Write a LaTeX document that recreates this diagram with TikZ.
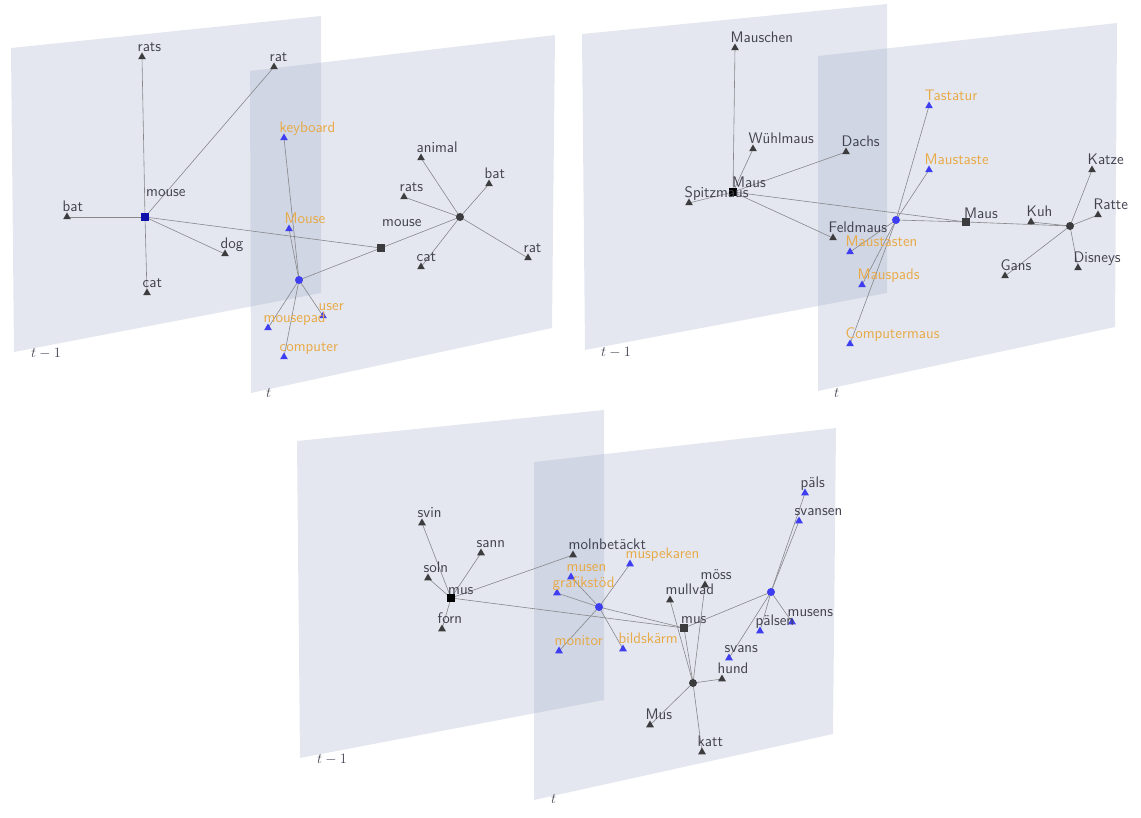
\documentclass[tikz,border=0pt]{standalone}
\usepackage{fontspec}
\usetikzlibrary{shapes.geometric}
\pgfdeclarelayer{planes}
\pgfdeclarelayer{edges}
\pgfsetlayers{planes,edges,main}
\definecolor{planec}{RGB}{151,163,193}
\definecolor{txtc}{RGB}{66,66,80}
\definecolor{orc}{RGB}{232,170,72}
\definecolor{trib}{RGB}{62,62,240}
\definecolor{trid}{RGB}{60,60,62}
\definecolor{edgec}{RGB}{135,135,140}
\tikzset{
  plane/.style={fill=planec,fill opacity=0.26,draw=none},
  edge/.style={draw=edgec,line width=0.6pt},
  trim/.style={regular polygon,regular polygon sides=3,inner sep=0pt,minimum size=9pt,draw=none},
  tridark/.style={trim,fill=trid},
  triblue/.style={trim,fill=trib},
  hubc/.style={circle,inner sep=0pt,minimum size=8pt,fill=trid},
  bluec/.style={circle,inner sep=0pt,minimum size=8pt,fill=trib},
  sqm/.style={rectangle,inner sep=0pt,minimum size=8.5pt},
  lbl/.style={inner sep=0pt,anchor=base west,font=\fontsize{15.3}{17}\selectfont\sffamily},
  dlbl/.style={lbl,text=txtc},
  olbl/.style={lbl,text=orc},
  tlbl/.style={inner sep=0pt,anchor=base west,font=\fontsize{15}{17}\selectfont,text=txtc}
}
% dark triangle with dark label
\newcommand\dt[4]{\node[tridark] (#1) at (#2,#3) {};
  \node[dlbl] (#1-t) at ({#2-4.5},{#3-5.5}) {#4};}
% blue triangle with orange label
\newcommand\bt[4]{\node[triblue] (#1) at (#2,#3) {};
  \node[olbl] (#1-t) at ({#2-4.5},{#3-5.5}) {#4};}
% blue triangle with dark label
\newcommand\bd[4]{\node[triblue] (#1) at (#2,#3) {};
  \node[dlbl] (#1-t) at ({#2-4.5},{#3-5.5}) {#4};}
\begin{document}
\begin{tikzpicture}[x=1pt,y=-1pt]
\useasboundingbox (0,0) rectangle (1141,818);
\begin{pgfonlayer}{planes}
% top-left
\path[plane] (11,48) -- (321,16) -- (321,293) -- (14,352) -- cycle;
\path[plane] (250,71) -- (555,35) -- (552,328) -- (251,393) -- cycle;
% top-right
\path[plane] (582,34) -- (887,4) -- (887,293) -- (585,350) -- cycle;
\path[plane] (818,56) -- (1117,23) -- (1115,327) -- (818,391) -- cycle;
% bottom
\path[plane] (297,441) -- (604,410) -- (604,700) -- (300,758) -- cycle;
\path[plane] (534,462) -- (836,428) -- (833,734) -- (534,800) -- cycle;
\end{pgfonlayer}
\node[tlbl] (tl1) at (31,358) {$t-1$};
\node[tlbl] (tl2) at (266,398) {$t$};
\node[tlbl] (tr1) at (601,356) {$t-1$};
\node[tlbl] (tr2) at (834,397) {$t$};
\node[tlbl] (bt1) at (317,763) {$t-1$};
\node[tlbl] (bt2) at (551,803) {$t$};

%%%%% top-left panel
\node[sqm,fill={rgb,255:red,16;green,16;blue,170}] (a1) at (145,217) {};
\node[dlbl] (a1-t) at (146,197) {mouse};
\dt{r1}{142}{57}{rats}
\dt{r2}{274}{67}{rat}
\dt{r3}{67}{217}{bat}
\dt{r4}{225}{254}{dog}
\dt{r5}{147}{293}{cat}
\node[sqm,fill=trid] (b1) at (381,248) {};
\node[dlbl] (b1-t) at (382,227) {mouse};
\node[bluec] (c1) at (299,280) {};
\bt{k1}{284}{138}{keyboard}
\bt{k2}{289}{229}{Mouse}
\bt{k3}{323}{316}{user}
\bt{k4}{268}{328}{mousepad}
\bt{k5}{284}{357}{computer}
\node[hubc] (h1) at (460,217) {};
\dt{s1}{421}{158}{animal}
\dt{s2}{489}{184}{bat}
\dt{s3}{404}{197}{rats}
\dt{s4}{528}{258}{rat}
\dt{s5}{421}{267}{cat}
\begin{pgfonlayer}{edges}
\foreach \n in {r1,r2,r3,r4,r5,b1} \draw[edge] (a1.center) -- (\n.center);
\draw[edge] (b1.center) -- (c1.center);
\draw[edge] (b1.center) -- (h1.center);
\foreach \n in {k1,k2,k3,k4,k5} \draw[edge] (c1.center) -- (\n.center);
\foreach \n in {s1,s2,s3,s4,s5} \draw[edge] (h1.center) -- (\n.center);
\end{pgfonlayer}

%%%%% top-right panel
\node[sqm,fill=black] (a2) at (733,192) {};
\node[dlbl] (a2-t) at (732,188) {Maus};
\dt{m1}{735}{48}{Mauschen}
\dt{m2}{753}{149}{Wühlmaus}
\dt{m3}{846}{152}{Dachs}
\dt{m4}{689}{203}{Spitzmaus}
\dt{m5}{833}{238}{Feldmaus}
\node[bluec] (c2) at (896,220) {};
\node[sqm,fill=trid] (b2) at (966,222) {};
\node[dlbl] (b2-t) at (964,219) {Maus};
\node[hubc] (h2) at (1070,226) {};
\dt{g1}{1031}{222}{Kuh}
\dt{g2}{1092}{170}{Katze}
\dt{g3}{1098}{215}{Ratte}
\dt{g4}{1078}{268}{Disneys}
\dt{g5}{1005}{276}{Gans}
\bt{q1}{929}{106}{Tastatur}
\bt{q2}{929}{170}{Maustaste}
\bt{q3}{850}{252}{Maustasten}
\bt{q4}{862}{285}{Mauspads}
\bt{q5}{850}{344}{Computermaus}
\begin{pgfonlayer}{edges}
\foreach \n in {m1,m2,m3,m4,m5,b2} \draw[edge] (a2.center) -- (\n.center);
\draw[edge] (c2.center) -- (b2.center);
\draw[edge] (b2.center) -- (h2.center);
\foreach \n in {g1,g2,g3,g4,g5} \draw[edge] (h2.center) -- (\n.center);
\foreach \n in {q1,q2,q3,q4,q5} \draw[edge] (c2.center) -- (\n.center);
\end{pgfonlayer}

%%%%% bottom panel
\node[sqm,fill=black] (a3) at (451,598) {};
\node[dlbl] (a3-t) at (448,594) {mus};
\dt{v1}{422}{523}{svin}
\dt{v2}{481}{553}{sann}
\dt{v3}{428}{578}{soln}
\dt{v4}{442}{629}{forn}
\dt{v5}{573}{555}{molnbetäckt}
\node[bluec] (c3) at (599,607) {};
\bt{w1}{571}{577}{musen}
\bt{w2}{557}{593}{grafikstöd}
\bt{w3}{630}{564}{muspekaren}
\bt{w4}{559}{651}{monitor}
\bt{w5}{623}{649}{bildskärm}
\node[sqm,fill=trid] (b3) at (684,628) {};
\node[dlbl] (b3-t) at (681,623) {mus};
\node[hubc] (h3) at (693,683) {};
\dt{x1}{670}{600}{mullvad}
\dt{x2}{705}{585}{möss}
\dt{x3}{722}{679}{hund}
\dt{x4}{650}{725}{Mus}
\dt{x5}{702}{752}{katt}
\node[bluec] (c4) at (771,592) {};
\bd{y1}{805}{493}{päls}
\bd{y2}{799}{521}{svansen}
\bd{y3}{792}{622}{musens}
\bd{y4}{760}{631}{pälsen}
\bd{y5}{729}{658}{svans}
\begin{pgfonlayer}{edges}
\foreach \n in {v1,v2,v3,v4,v5,b3} \draw[edge] (a3.center) -- (\n.center);
\foreach \n in {w1,w2,w3,w4,w5,b3} \draw[edge] (c3.center) -- (\n.center);
\draw[edge] (b3.center) -- (c4.center);
\draw[edge] (b3.center) -- (h3.center);
\foreach \n in {x1,x2,x3,x4,x5} \draw[edge] (h3.center) -- (\n.center);
\foreach \n in {y1,y2,y3,y4,y5} \draw[edge] (c4.center) -- (\n.center);
\end{pgfonlayer}
\end{tikzpicture}
\end{document}
